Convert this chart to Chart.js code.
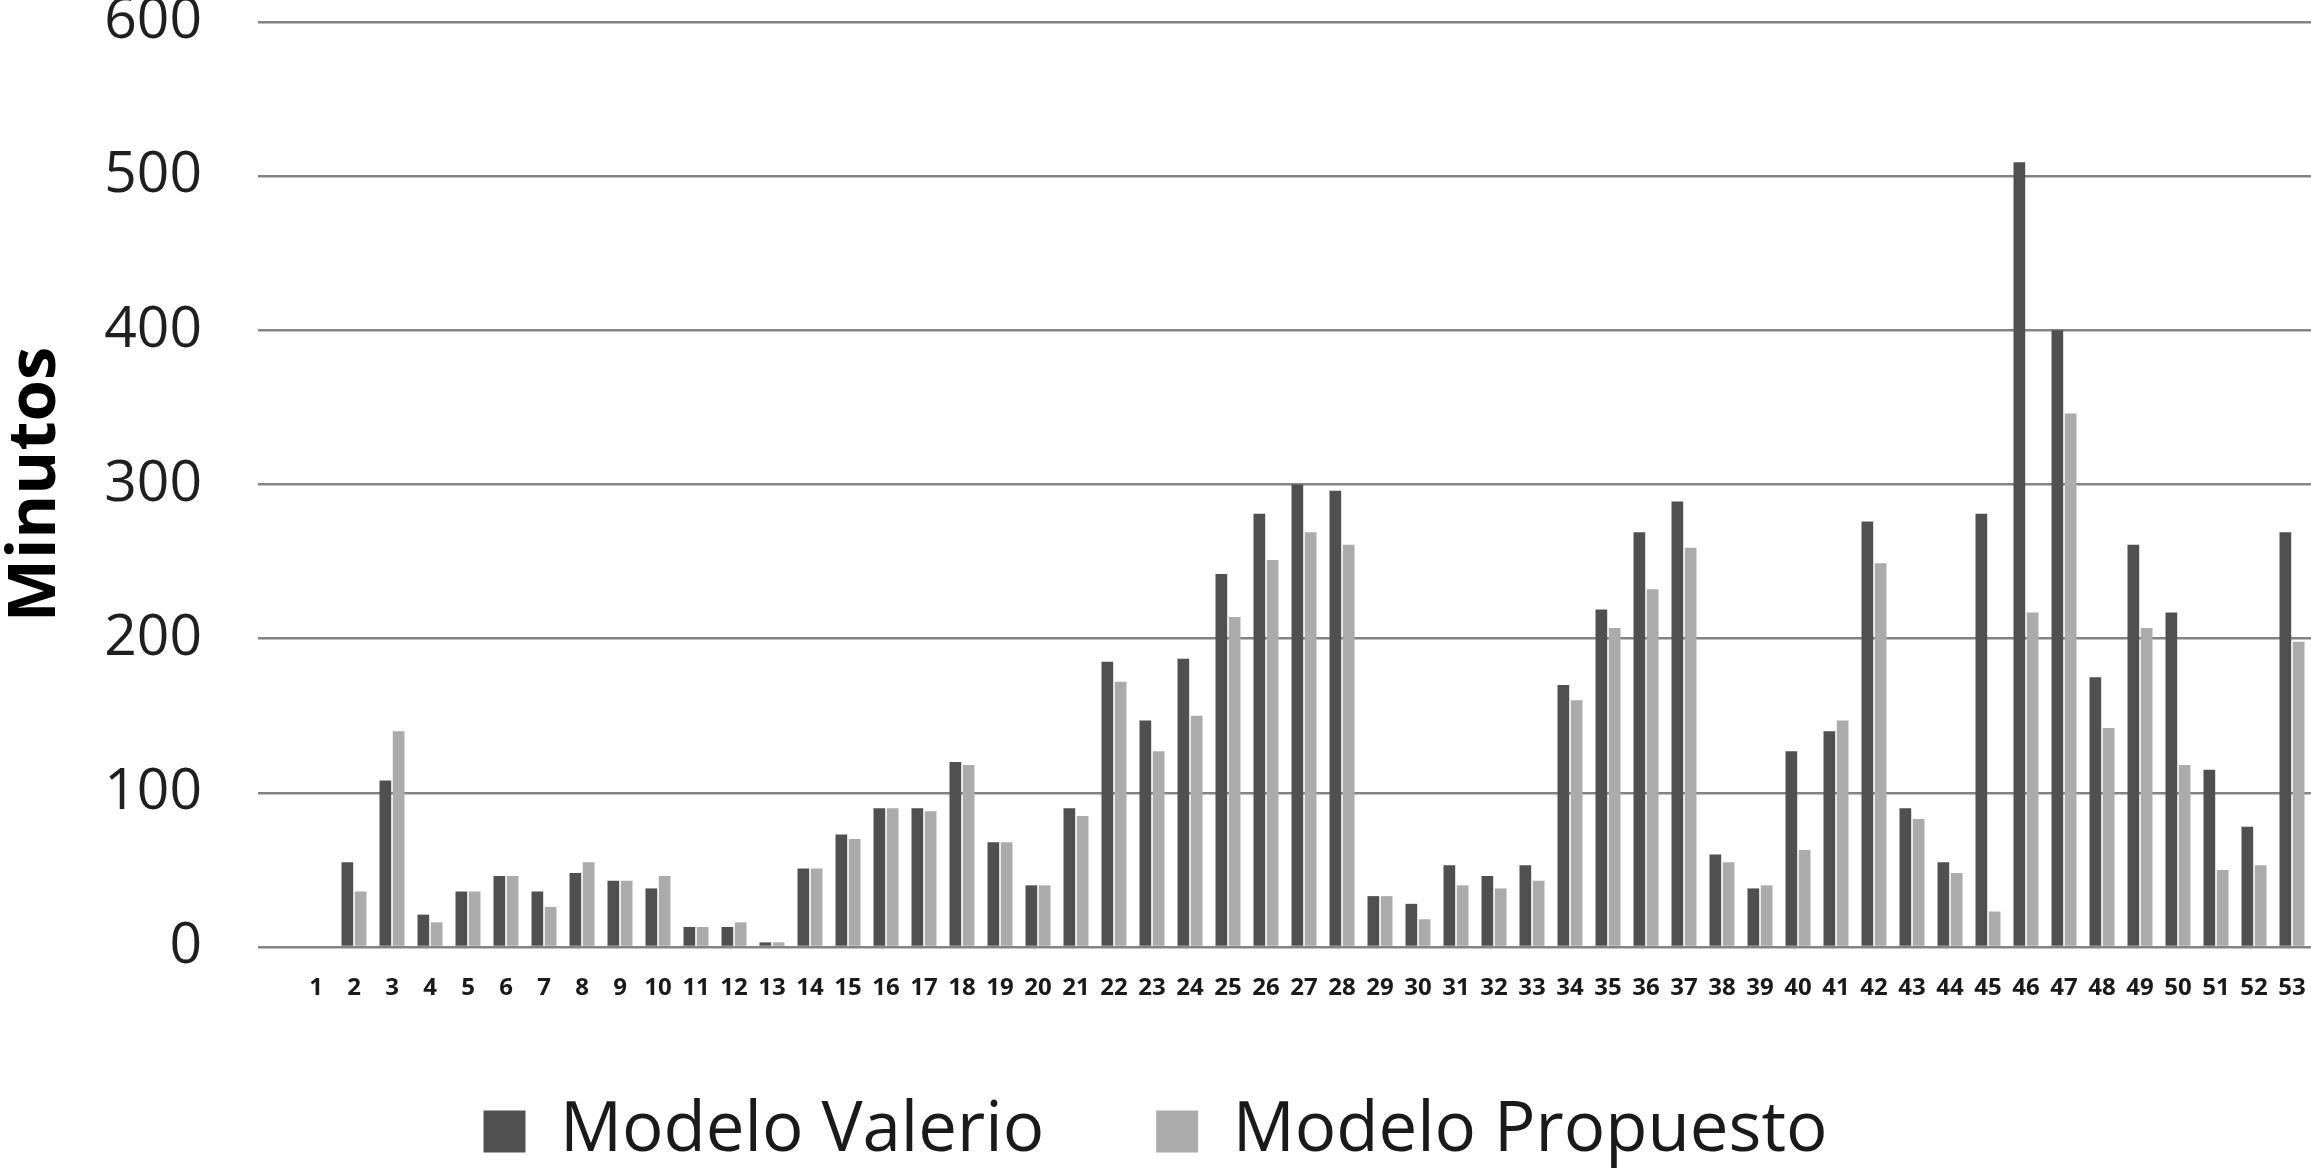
<!DOCTYPE html>
<html>
<head>
<meta charset="utf-8">
<script src="https://cdn.jsdelivr.net/npm/chart.js@4.4.1/dist/chart.umd.min.js"></script>
<style>
html,body{margin:0;padding:0;background:#fff;overflow:hidden}
#wrap{width:2311px;height:1168px;position:relative}
</style>
</head>
<body>
<div id="wrap"><canvas id="c" width="2311" height="1168"></canvas></div>
<script>
const categories = ['1','2','3','4','5','6','7','8','9','10','11','12','13','14','15','16','17','18','19','20','21','22','23','24','25','26','27','28','29','30','31','32','33','34','35','36','37','38','39','40','41','42','43','44','45','46','47','48','49','50','51','52','53'];
const modeloValerio = [0,55,108,21,36,46,36,48,43,38,13,13,3,51,73,90,90,120,68,40,90,185,147,187,242,281,300,296,33,28,53,46,53,170,219,269,289,60,38,127,140,276,90,55,281,509,400,175,261,217,115,78,269];
const modeloPropuesto = [0,36,140,16,36,46,26,55,43,46,13,16,3,51,70,90,88,118,68,40,85,172,127,150,214,251,269,261,33,18,40,38,43,160,207,232,259,55,40,63,147,249,83,48,23,217,346,142,207,118,50,53,198];
const yTicks = [0,100,200,300,400,500,600];
const seriesNames = ['Modelo Valerio','Modelo Propuesto'];
const yTitle = 'Minutos';

const PLOT_BOTTOM = 947;
const BOTTOM_SHIFT = 8;

function build(){
  Chart.defaults.font.family = "'Open Sans', 'DejaVu Sans', sans-serif";
  new Chart(document.getElementById('c'), {
    type: 'bar',
    data: {
      labels: categories,
      datasets: [
        {label: seriesNames[0], data: modeloValerio, backgroundColor: '#505050', categoryPercentage: 0.70, barPercentage: 0.88},
        {label: seriesNames[1], data: modeloPropuesto, backgroundColor: '#ababab', categoryPercentage: 0.70, barPercentage: 0.88}
      ]
    },
    options: {
      responsive: false,
      animation: false,
      layout: {padding: {top: 0, left: 0, right: 0, bottom: -BOTTOM_SHIFT}},
      plugins: {
        legend: {
          position: 'bottom',
          labels: {font: {size: 69}, color: '#1a1a1a', boxWidth: 42, boxHeight: 42, padding: 112}
        },
        tooltip: {enabled: false}
      },
      scales: {
        x: {
          grid: {display: false},
          border: {display: false},
          ticks: {font: {size: 24, weight: 'bold'}, color: '#1a1a1a', padding: 19, maxRotation: 0, minRotation: 0, autoSkip: false},
          afterFit(s) {
            s.paddingLeft = 0; s.paddingRight = 0;
            s._computeLabelArea = function () { return undefined; };
            const lh = s.chart.legend ? s.chart.legend.height : 0;
            s.height = Math.max(0, s.chart.height + BOTTOM_SHIFT - PLOT_BOTTOM - lh);
          }
        },
        y: {
          min: 0, max: 600,
          afterBuildTicks(s) { s.ticks = yTicks.map(v => ({value: v})); },
          grid: {color: '#848484', lineWidth: 2.5, tickLength: 39, drawTicks: true},
          border: {display: false},
          ticks: {font: {size: 57, lineHeight: 0.8}, color: '#1f1f1f', padding: 56},
          title: {display: true, text: yTitle, font: {size: 67, weight: 'bold', lineHeight: 1}, color: '#000', padding: {top: 2, bottom: 0}},
          afterFit(s) { s.width = 297; s.paddingTop = 22; s.paddingBottom = 0; }
        }
      }
    }
  });
}
if (document.fonts && document.fonts.load) {
  Promise.all([document.fonts.load("57px 'Open Sans'"), document.fonts.load("bold 67px 'Open Sans'")]).then(build, build);
} else { build(); }
</script>
</body>
</html>
